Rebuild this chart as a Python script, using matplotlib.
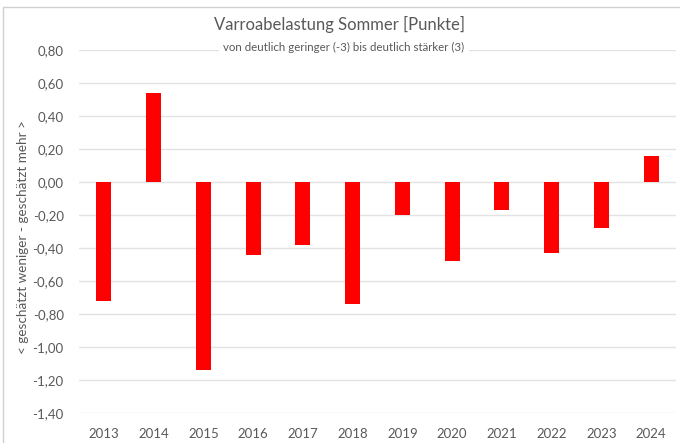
import matplotlib
matplotlib.use("Agg")
import matplotlib.pyplot as plt
from matplotlib.patches import Rectangle

years = ["2013", "2014", "2015", "2016", "2017", "2018", "2019", "2020", "2021", "2022", "2023", "2024"]
values = [-0.72, 0.54, -1.14, -0.44, -0.38, -0.74, -0.20, -0.48, -0.17, -0.43, -0.28, 0.16]
yticks = [0.8, 0.6, 0.4, 0.2, 0.0, -0.2, -0.4, -0.6, -0.8, -1.0, -1.2, -1.4]

plt.rcParams['font.family'] = ['Lato', 'DejaVu Sans']
txt = '#595959'

fig = plt.figure(figsize=(6.8, 4.43), dpi=100)
W, H = 680, 443
# chart border
fig.patches.append(Rectangle((3 / W, -0.1), 1.2, (H - 7) / H + 0.1, transform=fig.transFigure,
                             fill=False, edgecolor='#d0d0d0', linewidth=1.0))

ax = fig.add_axes([79 / W, (H - 413) / H, (676 - 79) / W, (413 - 50) / H])
x = range(len(years))
ax.bar(x, values, width=0.30, color='#ff0000', zorder=3)
ax.set_xlim(-0.5, len(years) - 0.5)
ax.set_ylim(-1.4, 0.8)
ax.set_yticks(yticks)
ax.set_yticklabels([f"{v:.2f}".replace('.', ',').replace('-0,00', '0,00') for v in yticks],
                   fontsize=9.5, color=txt)
ax.set_xticks(list(x))
ax.set_xticklabels(years, fontsize=9.5, color=txt)
ax.tick_params(axis='both', length=0)
ax.tick_params(axis='y', pad=11)
ax.tick_params(axis='x', pad=11)
for s in ax.spines.values():
    s.set_visible(False)
ax.grid(axis='y', color='#e3e3e3', linewidth=1.0, zorder=0)
ax.set_axisbelow(True)

fig.text(340 / W, (H - 24) / H, "Varroabelastung Sommer [Punkte]", ha='center', va='center',
         fontsize=12, color=txt)
fig.text(344 / W, (H - 47) / H, "von deutlich geringer (-3) bis deutlich stärker (3)", ha='center',
         va='center', fontsize=8.3, color=txt,
         bbox=dict(facecolor='white', edgecolor='none', pad=3), zorder=5)
fig.text(23 / W, (H - 237) / H, "< geschätzt weniger - geschätzt mehr >", ha='center', va='center',
         rotation=90, fontsize=9.7, color=txt)

fig.savefig("out.png", dpi=100)
